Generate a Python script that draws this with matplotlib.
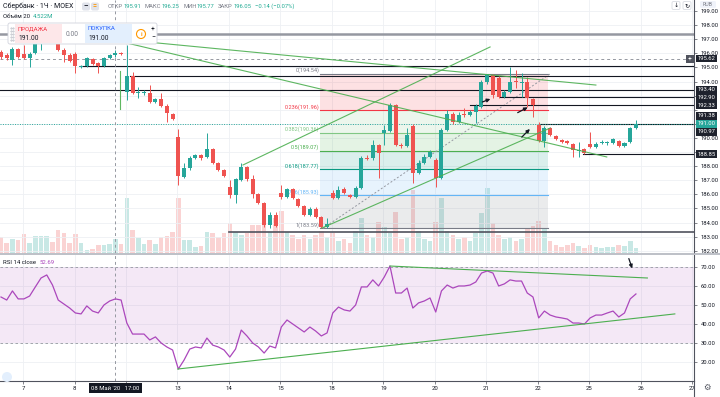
import matplotlib
matplotlib.use("Agg")
import matplotlib.pyplot as plt
import numpy as np
from matplotlib.patches import Rectangle, FancyBboxPatch, Circle
from matplotlib.transforms import Bbox, TransformedBbox, blended_transform_factory

plt.rcParams['font.family'] = ['Roboto', 'DejaVu Sans']

# часовые свечи SBER (MOEX), 07.05 - 26.05
opens = [196.09, 195.88, 195.52, 196.30, 195.95, 195.67, 196.02, 196.73, 197.08, 197.40,
         196.73, 196.23, 195.88, 195.95, 195.03, 195.10, 195.60, 195.31, 195.10, 195.67,
         195.91, 196.02, 193.26, 194.39, 193.18, 193.18, 193.18, 192.55, 192.76, 192.26,
         191.70, 190.06, 187.23, 187.87, 188.57, 188.79, 188.65, 189.21, 188.22, 187.72,
         186.52, 185.95, 187.01, 187.94, 187.09, 186.02, 185.38, 183.82, 184.53, 186.09,
         185.81, 186.38, 185.67, 185.17, 184.53, 184.96, 184.39, 183.68, 186.09, 185.74,
         186.38, 185.95, 185.81, 186.45, 188.57, 188.57, 189.50, 190.35, 190.49, 192.33,
         189.50, 189.43, 190.84, 187.51, 188.22, 188.65, 188.43, 187.16, 190.56, 191.70,
         191.13, 191.70, 191.62, 191.84, 192.19, 193.96, 194.46, 194.25, 192.90, 193.26,
         194.04, 193.89, 193.96, 192.76, 190.91, 189.78, 190.70, 190.13, 189.85, 189.78,
         189.57, 189.07, 189.21, 189.57, 189.36, 189.64, 189.64, 189.64, 189.78, 189.43,
         189.71, 190.70]
highs = [196.23, 196.02, 196.45, 196.38, 196.59, 196.09, 196.87, 197.20, 197.55, 197.50,
         196.94, 196.38, 196.02, 196.09, 195.17, 195.74, 195.67, 195.38, 195.74, 195.95,
         196.25, 196.09, 196.59, 194.67, 193.61, 193.40, 193.75, 192.83, 193.18, 192.40,
         191.77, 190.63, 188.22, 188.72, 188.86, 188.86, 190.35, 189.28, 188.29, 187.79,
         187.01, 187.16, 188.22, 188.01, 187.37, 186.09, 185.45, 184.75, 184.75, 186.66,
         186.45, 186.45, 185.74, 185.24, 185.10, 185.10, 184.46, 184.32, 186.31, 186.59,
         186.52, 186.02, 186.59, 188.72, 188.79, 189.85, 189.57, 190.91, 192.48, 192.40,
         189.64, 190.70, 190.99, 188.43, 188.86, 189.14, 188.57, 190.70, 191.98, 191.84,
         191.84, 192.12, 191.98, 192.40, 194.11, 194.50, 194.54, 194.39, 193.40, 195.03,
         194.82, 194.60, 194.32, 192.83, 191.13, 190.84, 190.77, 190.21, 189.92, 189.85,
         189.64, 189.71, 189.28, 190.42, 189.71, 189.85, 189.78, 189.99, 189.85, 189.71,
         190.77, 191.27]
lows = [195.60, 195.52, 195.17, 195.67, 195.60, 195.03, 195.95, 196.23, 196.95, 196.80,
        196.16, 195.38, 195.38, 194.60, 194.96, 195.03, 195.17, 194.60, 195.03, 195.60,
        195.77, 195.88, 192.69, 193.11, 192.83, 193.04, 192.48, 192.48, 192.19, 191.13,
        191.27, 186.66, 187.16, 187.72, 188.50, 188.43, 188.57, 188.15, 187.65, 187.23,
        185.74, 185.38, 186.94, 186.94, 185.74, 185.31, 183.65, 183.61, 183.68, 185.67,
        185.74, 185.67, 185.10, 184.46, 184.46, 184.32, 183.61, 183.59, 185.67, 185.67,
        186.02, 185.74, 185.74, 186.38, 188.43, 188.43, 187.16, 189.50, 190.42, 189.43,
        189.28, 189.36, 186.80, 187.44, 188.15, 188.57, 186.52, 187.09, 190.49, 190.99,
        191.06, 191.48, 191.55, 191.06, 192.12, 193.82, 192.83, 192.83, 192.83, 193.18,
        193.54, 192.90, 192.19, 191.48, 189.71, 189.36, 190.13, 189.85, 189.64, 189.57,
        188.65, 188.65, 188.86, 189.28, 189.28, 189.57, 189.50, 189.57, 189.36, 189.36,
        189.64, 190.63]
closes = [195.74, 195.67, 196.30, 195.74, 195.67, 195.95, 196.73, 197.08, 197.40, 196.87,
          196.23, 195.88, 195.45, 195.10, 195.10, 195.67, 195.24, 195.10, 195.67, 195.88,
          196.05, 195.95, 194.39, 193.18, 193.26, 193.26, 192.55, 192.76, 192.26, 191.77,
          191.34, 187.30, 187.87, 188.57, 188.79, 188.57, 189.21, 188.22, 187.72, 187.30,
          185.95, 187.09, 187.94, 187.09, 186.02, 185.38, 183.82, 184.53, 183.75, 185.81,
          186.38, 185.74, 185.17, 184.53, 184.96, 184.39, 183.68, 183.89, 185.74, 186.31,
          186.09, 185.81, 186.45, 188.57, 188.50, 189.50, 188.93, 190.56, 192.33, 189.50,
          189.43, 190.21, 187.51, 188.22, 188.65, 189.00, 187.16, 190.56, 191.70, 191.13,
          191.62, 191.62, 191.84, 192.26, 193.96, 194.53, 193.04, 192.90, 193.26, 193.96,
          193.96, 193.96, 192.83, 192.33, 189.78, 190.70, 190.21, 189.92, 189.71, 189.64,
          189.14, 189.14, 188.93, 189.36, 189.57, 189.71, 189.71, 189.92, 189.43, 189.64,
          190.70, 191.00]
volumes = [1.6, 1.0, 1.4, 1.3, 1.9, 1.0, 1.7, 1.7, 1.7, 1.1,
           2.3, 2.0, 1.0, 1.9, 1.0, 0.3, 0.4, 0.8, 0.8, 0.9,
           1.4, 0.9, 5.5, 2.3, 1.5, 0.9, 1.3, 0.9, 1.6, 1.7,
           2.1, 5.5, 1.3, 1.3, 0.6, 0.7, 2.1, 2.0, 1.6, 2.0,
           3.0, 2.1, 1.8, 2.0, 2.8, 2.8, 2.8, 2.1, 3.5, 4.2,
           2.1, 1.8, 1.4, 1.8, 1.4, 1.8, 2.2, 1.6, 2.0, 1.2,
           1.4, 1.0, 2.2, 3.5, 1.8, 1.6, 3.1, 2.6, 2.0, 4.1,
           1.4, 1.6, 6.3, 2.2, 1.4, 1.2, 3.1, 5.5, 2.2, 1.8,
           1.4, 1.6, 1.2, 2.0, 4.0, 6.5, 3.0, 1.8, 1.4, 1.6,
           1.2, 1.4, 2.4, 2.7, 3.2, 2.4, 1.2, 0.8, 0.6, 0.8,
           1.0, 0.7, 0.5, 0.8, 0.6, 0.5, 0.6, 0.6, 0.8, 0.7,
           1.2, 0.5]
rsi = [54.2, 52.6, 57.4, 53.2, 53.2, 54.7, 59.5, 64.2, 65.8, 60.5,
       52.6, 50.5, 48.4, 45.8, 45.3, 49.5, 46.8, 45.8, 50.0, 52.1,
       53.2, 52.6, 40.5, 34.7, 34.7, 34.7, 31.6, 33.2, 30.0, 27.9,
       26.3, 16.3, 21.0, 26.8, 27.9, 27.4, 32.6, 28.9, 27.9, 26.3,
       22.6, 26.8, 36.8, 33.7, 30.0, 27.9, 24.7, 28.4, 27.4, 38.4,
       42.1, 40.0, 37.9, 35.8, 38.4, 36.3, 33.7, 35.3, 45.8, 48.9,
       47.4, 46.8, 50.0, 59.5, 59.5, 63.2, 60.0, 64.7, 70.5, 56.3,
       56.3, 58.9, 48.4, 51.1, 52.1, 53.7, 46.3, 57.4, 60.5, 58.9,
       60.0, 60.0, 60.5, 62.1, 66.8, 67.9, 66.8, 60.0, 61.1, 63.2,
       62.6, 62.6, 56.3, 54.2, 43.2, 46.8, 44.7, 43.7, 43.2, 42.6,
       40.5, 40.5, 40.0, 43.2, 44.7, 44.7, 45.8, 46.8, 43.7, 45.8,
       53.2, 55.8]

days = ['7', '8', '12', '13', '14', '15', '18', '19', '20', '21', '22', '25', '26', '27']
bars_per_day = 9
first_day_bar = 3.85
price_ticks = np.arange(182, 200)
rsi_ticks = [20, 30, 40, 50, 60, 70]
cross_bar = 20
cross_price = 195.62

fib_levels = [0, 0.236, 0.382, 0.5, 0.618, 0.786, 1]
fib_prices = [194.54, 191.96, 190.36, 189.07, 187.77, 185.93, 183.59]
fib_colors = ['#787b86', '#f23645', '#81c784', '#4caf50', '#089981', '#64b5f6', '#787b86']
fib_x = (55.8, 95.6)

# горизонтальные уровни: (цена, с какой свечи)
black_levels = [(195.10, 13.8), (194.39, 22.6), (193.40, -1), (192.90, 87.2),
                (192.33, 82.0), (190.97, 94.2), (188.85, 101.7)]
support_level = (183.35, 39.9)
gray_level = 197.35
last_price = 191.00

# трендовые линии: ((свеча, цена), (свеча, цена))
trend_lines = [((22.0, 196.94), (104.0, 193.75)),
               ((22.0, 196.73), (105.9, 188.65)),
               ((42.3, 188.08), (85.5, 196.45)),
               ((56.1, 183.61), (96.0, 190.70)),
               ((20.8, 194.74), (20.8, 192.05))]
fib_trend = ((56.3, 183.59), (96.0, 194.54))
arrows = [((83.7, 192.48), (86.0, 192.83)),
          ((89.9, 191.70), (92.5, 192.26)),
          ((90.7, 189.92), (92.8, 190.77))]
rsi_lines = [((68.0, 70.5), (113.0, 64.2)), ((30.9, 16.3), (117.8, 45.3))]
rsi_arrow = ((109.6, 75.8), (110.5, 67.9))

# ценовые метки справа: (текст, цена, сдвиг в пунктах)
price_tags = [('195.62', 195.62, 0), ('193.40', 193.40, 0), ('192.90', 192.90, 0),
              ('192.33', 192.33, 0), ('191.38', 191.38, 1.9), ('190.97', 190.97, -5.4),
              ('188.85', 188.85, 0)]

UP, DN = '#26a69a', '#ef5350'
W, H = 720, 397
fig = plt.figure(figsize=(7.2, 3.97), dpi=100)


def rect(x0, y0, x1, y1):
    return [x0 / W, 1 - y1 / H, (x1 - x0) / W, (y1 - y0) / H]


axv = fig.add_axes(rect(0, 0, 694, 253))
ax = fig.add_axes(rect(0, 0, 694, 253))
axr = fig.add_axes(rect(0, 255, 694, 381))
axv.set_zorder(0)
ax.set_zorder(1)
ax.patch.set_visible(False)

x = np.arange(len(closes))
o, h, l, c = map(np.array, (opens, highs, lows, closes))
up = c >= o
xlim = (-0.175, 121.15)
day_pos = first_day_bar + bars_per_day * np.arange(len(days))

# объём
axv.bar(x, volumes, width=0.8, color=np.where(up, UP, DN), alpha=0.25, lw=0)
axv.set_xlim(xlim)
axv.set_ylim(0, max(volumes) * 253 / 65)
axv.axis('off')

# сетка
for a in (ax, axr):
    for p in day_pos:
        a.axvline(p, color='#eef0f4', lw=0.6, zorder=0)
for p in price_ticks:
    ax.axhline(p, color='#eef0f4', lw=0.6, zorder=0)
for p in rsi_ticks:
    axr.axhline(p, color='#eef0f4', lw=0.6, zorder=0)

# фибоначчи
x0, x1 = fib_x
for k in range(1, len(fib_prices)):
    ax.fill_between([x0, x1], fib_prices[k - 1], fib_prices[k], color=fib_colors[k],
                    alpha=0.15, lw=0, zorder=1)
for lv, p, col in zip(fib_levels, fib_prices, fib_colors):
    ax.plot([x0, x1], [p, p], color=col, lw=0.8, zorder=1.5)
    ax.text(x0 - 0.15, p + 0.05, f'{lv:g}({p:.2f})', color=col, fontsize=4,
            ha='right', va='bottom', zorder=1.6)
ax.plot(*zip(*fib_trend), color='#9598a1', lw=0.7, ls=(0, (2, 2)), zorder=1.7)

# уровни
ax.axhline(gray_level, color='#9598a1', lw=1.8, zorder=2)
for p, start in black_levels:
    ax.plot([start, xlim[1]], [p, p], color='#131722', lw=0.8, zorder=2)
ax.plot([support_level[1], xlim[1]], [support_level[0]] * 2, color='#50535e', lw=1.2, zorder=2)
ax.axhline(last_price, color=UP, lw=0.7, ls=(0, (1, 1.5)), zorder=2)
ax.axhline(cross_price, color='#9598a1', lw=0.7, ls=(0, (3, 3)), zorder=2)

# свечи
ax.vlines(x, l, h, colors=np.where(up, UP, DN), lw=0.7, zorder=3)
body = np.maximum(np.abs(c - o), 0.03)
ax.bar(x, body, bottom=np.minimum(o, c), width=0.7, color=np.where(up, UP, DN), lw=0, zorder=3.1)

for (xa, ya), (xb, yb) in trend_lines:
    ax.plot([xa, xb], [ya, yb], color='#4caf50', lw=0.8, alpha=0.9, zorder=4)
for s, e in arrows:
    ax.annotate('', xy=e, xytext=s, zorder=5,
                arrowprops=dict(arrowstyle='-|>', color='#131722', lw=0.9, mutation_scale=5))

# RSI
axr.axhspan(30, 70, color='#9c27b0', alpha=0.1, lw=0, zorder=0.2)
for p in (30, 70):
    axr.axhline(p, color='#9598a1', lw=0.6, ls=(0, (3, 3)), zorder=0.5)
axr.plot(x, rsi, color='#ab47bc', lw=0.9, zorder=3)
for (xa, ya), (xb, yb) in rsi_lines:
    axr.plot([xa, xb], [ya, yb], color='#4caf50', lw=0.8, zorder=4)
axr.annotate('', xy=rsi_arrow[1], xytext=rsi_arrow[0], annotation_clip=False, zorder=5,
             arrowprops=dict(arrowstyle='-|>', color='#131722', lw=0.9, mutation_scale=5))

for a in (ax, axr):
    a.axvline(cross_bar, color='#9598a1', lw=0.7, ls=(0, (3, 3)), zorder=2)
    a.set_xlim(xlim)
    for s in ('top', 'left', 'bottom'):
        a.spines[s].set_visible(False)
    a.spines['right'].set_color('#50535e')
    a.spines['right'].set_linewidth(0.8)
    a.yaxis.tick_right()
    a.tick_params(axis='y', labelsize=4.2, labelcolor='#131722', length=2.5, width=0.5,
                  color='#50535e', pad=2.5)
ax.set_ylim(181.84, 199.78)
# подписи шкалы, закрытые ценовыми метками, терминал не показывает
tag_prices = [p for _, p, _ in price_tags] + [last_price]
ax.set_yticks(price_ticks, ['' if min(abs(p - q) for q in tag_prices) < 0.36 else f'{p:.2f}'
                            for p in price_ticks])
ax.tick_params(axis='x', bottom=False, labelbottom=False)
axr.set_ylim(10.0, 76.3)
axr.set_yticks(rsi_ticks, [f'{p:.2f}' for p in rsi_ticks])
axr.spines['bottom'].set_visible(True)
axr.spines['bottom'].set_color('#50535e')
axr.spines['bottom'].set_linewidth(0.8)
axr.set_xticks(day_pos, [''] * len(day_pos))
axr.tick_params(axis='x', length=2, width=0.5, color='#50535e')

# метки цен на шкале
tr = blended_transform_factory(ax.transAxes, ax.transData)
tag_box = dict(boxstyle='square,pad=0.22', ec='none')
for txt, p, dy in price_tags:
    ax.annotate(txt, xy=(1, p), xycoords=tr, xytext=(2.6, dy), textcoords='offset points',
                fontsize=4.2, color='white', ha='left', va='center', annotation_clip=False,
                bbox=dict(tag_box, fc='#1e222d'), zorder=6)
ax.annotate(f'{last_price:.2f}', xy=(1, last_price), xycoords=tr, xytext=(2.6, 0),
            textcoords='offset points', fontsize=4.2, color='white', ha='left', va='center',
            annotation_clip=False, zorder=7, bbox=dict(tag_box, fc=UP))

# надписи поверх всего (в пикселях)
ov = fig.add_axes([0, 0, 1, 1])
ov.set_xlim(0, W)
ov.set_ylim(H, 0)
ov.axis('off')
ov.set_zorder(10)
ov.patch.set_visible(False)
renderer = fig.canvas.get_renderer()
scale = W / fig.bbox.width

GRAY, DARK, TEAL = '#787b86', '#131722', '#22ab94'
ov.plot([0, W], [254, 254], color='#b2b5be', lw=1.2)
ov.plot([694, 694], [381, H], color='#50535e', lw=0.8)

ov.text(3, 6.5, 'Сбербанк · 1Ч · MOEX', fontsize=5, color=DARK, va='center')
for bx, sym, col in ((82, '–', DARK), (91, '=', '#ff9800')):
    ov.add_patch(FancyBboxPatch((bx, 2.5), 8, 8, boxstyle='round,pad=0,rounding_size=2',
                                fc='#e0e3eb', ec='none'))
    ov.text(bx + 4, 6.5, sym, fontsize=5, color=col, ha='center', va='center', fontweight='bold')

header = [('ОТКР', GRAY, 0), ('195.91', TEAL, 3), ('МАКС', GRAY, 0), ('196.25', TEAL, 3),
          ('МИН', GRAY, 0), ('195.77', TEAL, 3), ('ЗАКР', GRAY, 0), ('196.05', TEAL, 3),
          ('−0.14 (−0.07%)', TEAL, 0)]
hx = 108
for txt, col, gap in header:
    t = ov.text(hx, 6.5, txt, fontsize=4.2, color=col, va='center')
    hx += t.get_window_extent(renderer).width * scale + 0.5 + gap
ov.text(3, 17, 'Объём 20', fontsize=4.3, color=DARK, va='center')
ov.text(33, 17, '4.522M', fontsize=4.3, color=TEAL, va='center')

# панель торговли
ov.add_patch(FancyBboxPatch((8, 23), 149, 21, boxstyle='round,pad=0,rounding_size=2',
                            fc='white', ec='#d1d4dc', lw=0.6))
ov.add_patch(Rectangle((15, 24), 47, 19, fc='#fde7e9', ec='none'))
ov.add_patch(Rectangle((85, 24), 47, 19, fc='#e3effd', ec='none'))
for gy in (28, 31, 34, 37, 40):
    ov.plot([10.5, 12.5], [gy, gy], ls='none', marker='.', ms=0.8, color='#b2b5be')
ov.text(18, 29, 'ПРОДАЖА', fontsize=4.3, color='#f23645', va='center')
ov.text(18, 38, '191.00', fontsize=4.8, color=DARK, va='center')
ov.text(66, 34, '0.00', fontsize=4.8, color=GRAY, va='center')
ov.text(88, 29, 'ПОКУПКА', fontsize=4.3, color='#2962ff', va='center')
ov.text(88, 38, '191.00', fontsize=4.8, color=DARK, va='center')
ov.add_patch(Circle((141, 34), 4.5, fc='white', ec='#ff9800', lw=0.8))
ov.text(141, 34, 'i', fontsize=4.5, color='#ff9800', ha='center', va='center', fontweight='bold')
ov.text(153, 29, '+', fontsize=5, color=DARK, ha='center', va='center')
ov.text(153, 38, '−', fontsize=5, color=DARK, ha='center', va='center')

ov.text(3, 262, 'RSI 14 close', fontsize=4.3, color=DARK, va='center')
ov.text(40, 262, '52.69', fontsize=4.3, color='#ab47bc', va='center')

# верхний правый угол
for bx, sym in ((672, '↓'), (683, '↻')):
    ov.add_patch(FancyBboxPatch((bx, 1.5), 8, 8, boxstyle='round,pad=0,rounding_size=1.5',
                                fc='white', ec='#d1d4dc', lw=0.5))
    ov.text(bx + 4, 5.5, sym, fontsize=4.5, color=DARK, ha='center', va='center')
ov.add_patch(FancyBboxPatch((700, 1), 16, 7, boxstyle='round,pad=0,rounding_size=1.5',
                            fc='#f0f3fa', ec='none'))
ov.text(708, 4.5, 'RUB', fontsize=3.8, color=GRAY, ha='center', va='center')
ov.add_patch(Rectangle((686, 55), 8, 8, fc='#50535e', ec='none'))
ov.text(690, 59, '+', fontsize=5, color='white', ha='center', va='center')

# ось времени
cx = axr.transData.transform((cross_bar, 0))[0] * scale
clip = TransformedBbox(Bbox([[0, 380], [694, H]]), ov.transData)
for d, p in zip(days, day_pos):
    px = axr.transData.transform((p, 0))[0] * scale
    if abs(px - cx) < 30:
        continue  # закрыто меткой перекрестия
    t = ov.text(px, 388, d, fontsize=4.3, color=DARK, ha='center', va='center')
    t.set_clip_box(clip)
    t.set_clip_on(True)
ov.text(cx, 388, "08 Май '20   17:00", fontsize=4.2, color='white', ha='center', va='center',
        bbox=dict(boxstyle='square,pad=0.45', fc=DARK, ec='none'))
ov.text(707, 388, '⚙', fontsize=6, color='#50535e', ha='center', va='center')
ov.add_patch(Circle((7, 377), 5, fc='#e3effd', ec='none'))

fig.savefig('out.png', dpi=100)
